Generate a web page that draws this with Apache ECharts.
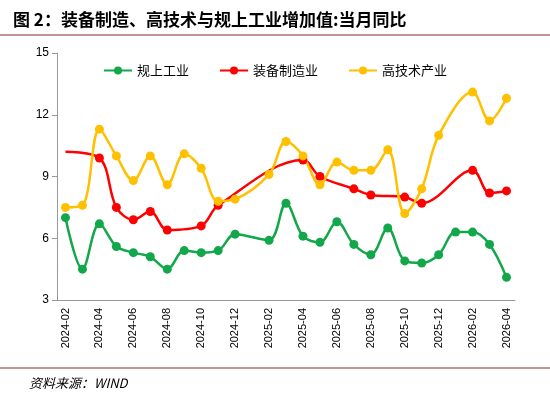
<!DOCTYPE html>
<html><head><meta charset="utf-8">
<script src="https://cdn.jsdelivr.net/npm/echarts@6/dist/echarts.min.js"></script>
<style>body{margin:0}#c{width:550px;height:400px}</style>
</head><body><div id="c"></div>
<script>
var months = ['2024-02','2024-03','2024-04','2024-05','2024-06','2024-07','2024-08','2024-09','2024-10','2024-11','2024-12','2025-01','2025-02','2025-03','2025-04','2025-05','2025-06','2025-07','2025-08','2025-09','2025-10','2025-11','2025-12','2026-01','2026-02','2026-03','2026-04'];
var industry = [7.0,4.5,6.7,5.6,5.3,5.1,4.5,5.4,5.3,5.4,6.2,null,5.9,7.7,6.1,5.8,6.8,5.7,5.2,6.5,4.9,4.8,5.2,6.3,6.3,5.7,4.1];
var equipment = [10.2,null,9.9,7.5,6.9,7.3,6.4,null,6.6,7.6,null,null,null,null,9.8,9.0,null,8.4,8.1,null,8.0,7.7,null,null,9.3,8.2,8.3];
var hightech = [7.5,7.6,11.3,10.0,8.8,10.0,8.6,10.1,9.4,7.8,7.9,null,9.1,10.7,10.0,8.6,9.7,9.3,9.3,10.3,7.2,8.4,11.0,null,13.1,11.7,12.8];

var chart = echarts.init(document.getElementById('c'));
function mk(name, data, color) {
  return {
    name: name, type: 'line', data: data, smooth: 0.35, connectNulls: true,
    symbol: 'circle', symbolSize: 9,
    lineStyle: { color: color, width: 2.5 }, itemStyle: { color: color }
  };
}
var eqData = equipment.map(function (v, i) {
  return i === 0 ? { value: v, symbol: 'none' } : v;
});
chart.setOption({
  backgroundColor: '#fff',
  animation: false,
  title: [{
    text: '图 2：装备制造、高技术与规上工业增加值:当月同比',
    left: 8, top: 6,
    textStyle: { fontFamily: 'Noto Sans CJK SC', fontSize: 17, fontWeight: 'bold', color: '#000' }
  }, {
    text: '资料来源：WIND',
    left: 24, top: 372,
    textStyle: { fontFamily: 'Noto Sans CJK SC', fontSize: 13, fontWeight: 'normal', fontStyle: 'italic', color: '#000' }
  }],
  graphic: [
    { type: 'line', shape: { x1: 0, y1: 35, x2: 550, y2: 35 }, style: { stroke: '#7f2b2b', lineWidth: 1 } },
    { type: 'line', shape: { x1: 0, y1: 368, x2: 550, y2: 368 }, style: { stroke: '#7f2b2b', lineWidth: 1 } }
  ],
  legend: {
    top: 59, left: 'center', itemGap: 30, itemWidth: 28, itemHeight: 10,
    textStyle: { fontFamily: 'Noto Sans CJK SC', fontSize: 13, color: '#000' },
    data: ['规上工业', '装备制造业', '高技术产业']
  },
  grid: { left: 57, right: 35, top: 53, bottom: 100 },
  xAxis: {
    type: 'category', data: months, boundaryGap: true,
    axisLine: { lineStyle: { color: '#999' } },
    axisTick: { interval: 1, lineStyle: { color: '#999' } },
    axisLabel: { interval: 1, rotate: 90, color: '#000', fontSize: 11, fontFamily: 'Liberation Sans' }
  },
  yAxis: {
    type: 'value', min: 3, max: 15, interval: 3,
    splitLine: { show: false },
    axisLine: { show: true, lineStyle: { color: '#999' } },
    axisTick: { show: true, lineStyle: { color: '#999' } },
    axisLabel: { color: '#000', fontSize: 12, fontFamily: 'Liberation Sans' }
  },
  series: [
    mk('规上工业', industry, '#12a74a'),
    mk('装备制造业', eqData, '#ff0000'),
    mk('高技术产业', hightech, '#ffc000')
  ]
});
</script></body></html>
